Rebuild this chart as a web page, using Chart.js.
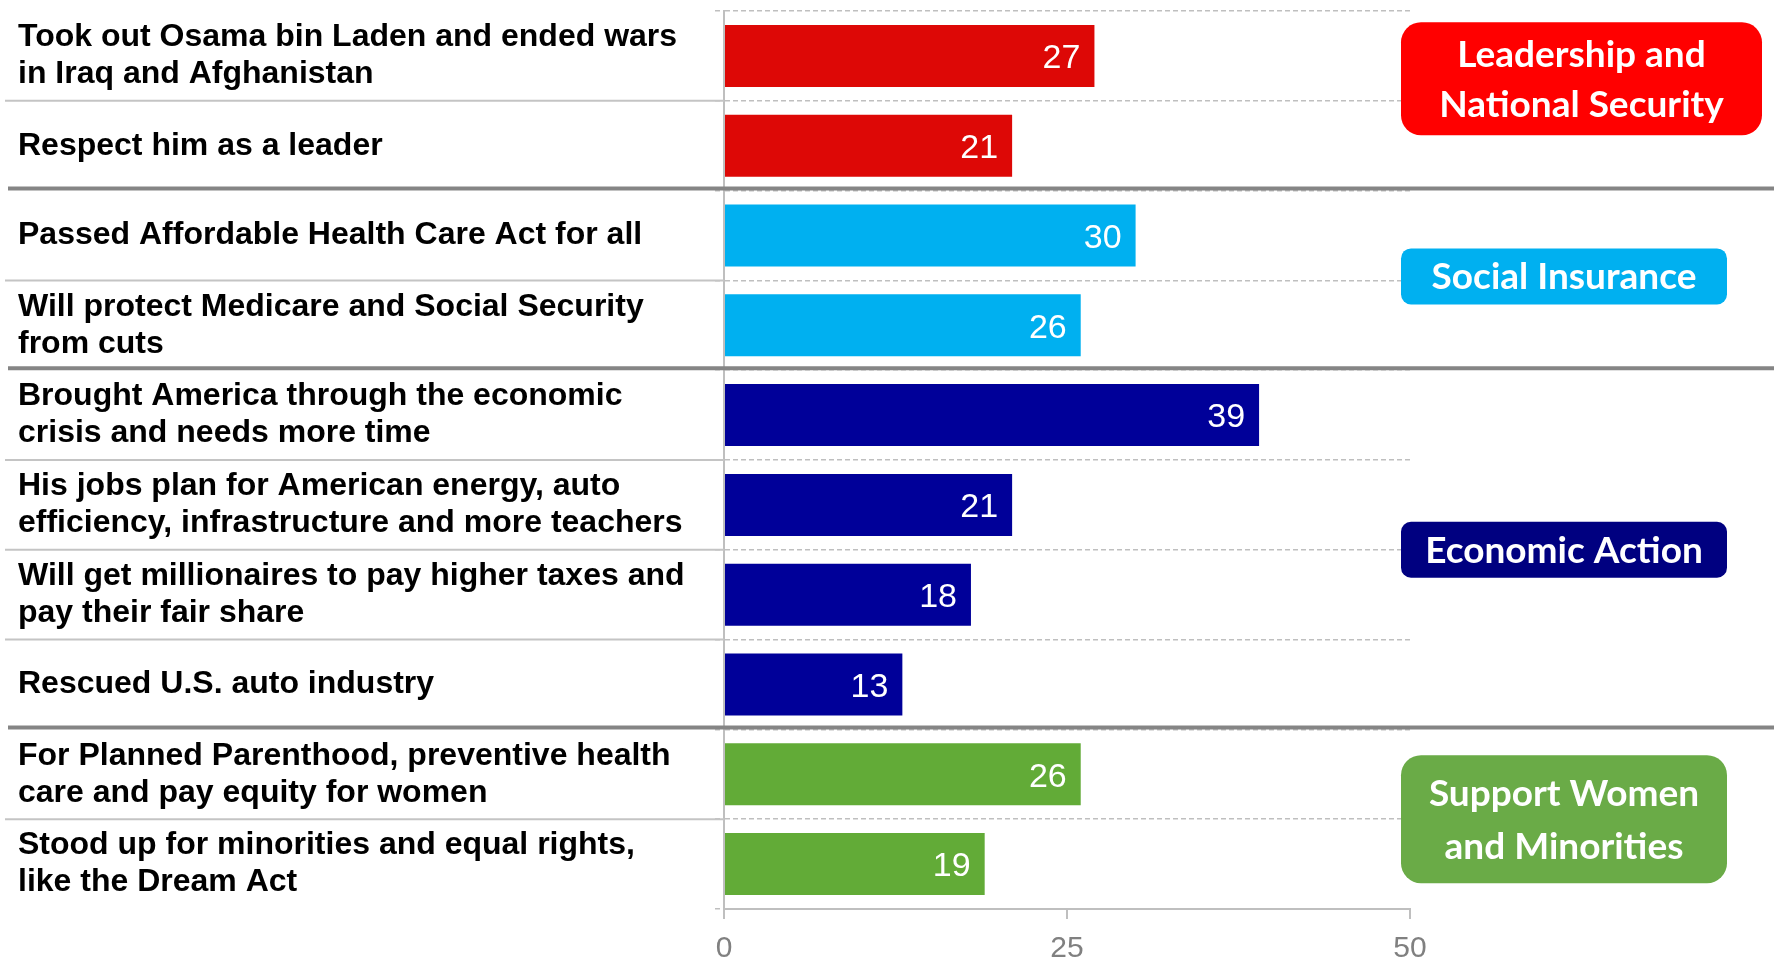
<!DOCTYPE html>
<html>
<head>
<meta charset="utf-8">
<script src="https://cdn.jsdelivr.net/npm/chart.js@4"></script>
<style>
  body { margin: 0; background: #fff; }
  #wrap { width: 1774px; height: 959px; position: relative; }
</style>
</head>
<body>
<div id="wrap"><canvas id="chart"></canvas></div>
<script>
"use strict";

// categories (multi-line labels as arrays)
const reasons = [
    ["Took out Osama bin Laden and ended wars", "in Iraq and Afghanistan"],
    "Respect him as a leader",
    "Passed Affordable Health Care Act for all",
    ["Will protect Medicare and Social Security", "from cuts"],
    ["Brought America through the economic", "crisis and needs more time"],
    ["His jobs plan for American energy, auto", "efficiency, infrastructure and more teachers"],
    ["Will get millionaires to pay higher taxes and", "pay their fair share"],
    "Rescued U.S. auto industry",
    ["For Planned Parenthood, preventive health", "care and pay equity for women"],
    ["Stood up for minorities and equal rights,", "like the Dream Act"]
];
const values = [27, 21, 30, 26, 39, 21, 18, 13, 26, 19];
const groupOf = [0, 0, 1, 1, 2, 2, 2, 2, 3, 3];
const groupNames = [
    ["Leadership and", "National Security"],
    ["Social Insurance"],
    ["Economic Action"],
    ["Support Women", "and Minorities"]
];
const xTicks = [0, 25, 50];

// styles
const barColors = ["#dd0806", "#00b0f0", "#000099", "#62ab37"];
const badgeColors = ["#ff0000", "#00b0f0", "#000080", "#6aab47"];

const separators = {
    id: "separators",
    afterDraw(chart) {
        const ctx = chart.ctx;
        const y = chart.scales.y;
        const area = chart.chartArea;
        ctx.save();
        for (let i = 0; i < values.length - 1; i++) {
            let yy = (y.getPixelForValue(i) + y.getPixelForValue(i + 1)) / 2;
            if (groupOf[i] !== groupOf[i + 1]) {
                ctx.strokeStyle = "#858585";
                ctx.lineWidth = 4;
                ctx.beginPath();
                ctx.moveTo(8, yy - 2);
                ctx.lineTo(chart.width, yy - 2);
                ctx.stroke();
            } else {
                ctx.strokeStyle = "#c4c4c4";
                ctx.lineWidth = 2;
                ctx.beginPath();
                ctx.moveTo(5, yy);
                ctx.lineTo(area.left, yy);
                ctx.stroke();
            }
        }

        // value labels inside bar ends
        let meta = chart.getDatasetMeta(0);
        ctx.fillStyle = "#fff";
        ctx.font = "34px 'Liberation Sans', Arial, sans-serif";
        ctx.textAlign = "right";
        ctx.textBaseline = "middle";
        meta.data.forEach((bar, i) => {
            ctx.fillText(String(values[i]), bar.x - 14, bar.y + 3);
        });

        // group badges
        const boxLeft = area.right - 9;
        ctx.font = "bold 37px Lato, 'Open Sans', sans-serif";
        ctx.textAlign = "center";
        ctx.textBaseline = "alphabetic";
        groupNames.forEach((lines, g) => {
            let idx = [];
            groupOf.forEach((v, i) => { if (v === g) idx.push(i); });
            let cy = (y.getPixelForValue(idx[0]) + y.getPixelForValue(idx[idx.length - 1])) / 2;
            if (g === 0) cy -= 22;
            if (g === 1) cy -= 4;
            let h = g === 0 ? 113 : (g === 3 ? 128 : 56);
            let w = g === 0 ? 361 : 326;
            let r = lines.length > 1 ? 20 : 10;
            ctx.fillStyle = badgeColors[g];
            ctx.beginPath();
            ctx.roundRect(boxLeft, cy - h / 2, w, h, r);
            ctx.fill();
            ctx.fillStyle = "#fff";
            let lh = g === 3 ? 53 : 50;
            let base = cy - (lines.length - 1) * lh / 2 + 13;
            lines.forEach((t, k) => {
                ctx.fillText(t, boxLeft + w / 2, base + k * lh);
            });
        });
        ctx.restore();
    }
};

let ctx = document.getElementById("chart").getContext("2d");
let chart = new Chart(ctx, {
    type: "bar",
    data: {
        labels: reasons,
        datasets: [{
            data: values,
            backgroundColor: values.map((v, i) => barColors[groupOf[i]]),
            barPercentage: 0.69,
            categoryPercentage: 1
        }]
    },
    options: {
        indexAxis: "y",
        responsive: true,
        maintainAspectRatio: false,
        animation: false,
        layout: { padding: { left: 18, top: 11, right: 364, bottom: 0 } },
        plugins: {
            legend: { display: false },
            tooltip: { enabled: false }
        },
        scales: {
            x: {
                min: 0,
                max: 50,
                afterBuildTicks: (scale) => { scale.ticks = xTicks.map(v => ({ value: v })); },
                afterFit: (scale) => { scale.height = 50; scale.paddingLeft = 0; scale.paddingRight = 0; },
                grid: {
                    drawOnChartArea: false,
                    color: "#bfbfbf",
                    tickLength: 10,
                    lineWidth: 2
                },
                border: { color: "#bfbfbf", width: 2 },
                ticks: {
                    color: "#808080",
                    padding: 12,
                    font: { family: "'Liberation Sans', Arial, sans-serif", size: 30 }
                }
            },
            y: {
                afterFit: (scale) => { scale.width = 706; scale.paddingTop = 0; scale.paddingBottom = 0; },
                grid: {
                    offset: true,
                    color: "#bfbfbf",
                    lineWidth: 1.5,
                    tickLength: 9,
                    tickBorderDash: [5, 3]
                },
                border: { color: "#bfbfbf", width: 2, dash: [5, 3] },
                ticks: {
                    crossAlign: "far",
                    color: "#000",
                    font: {
                        family: "'Liberation Sans', Arial, sans-serif",
                        size: 32,
                        weight: "bold",
                        lineHeight: 1.16
                    }
                }
            }
        }
    },
    plugins: [separators]
});
</script>
</body>
</html>
